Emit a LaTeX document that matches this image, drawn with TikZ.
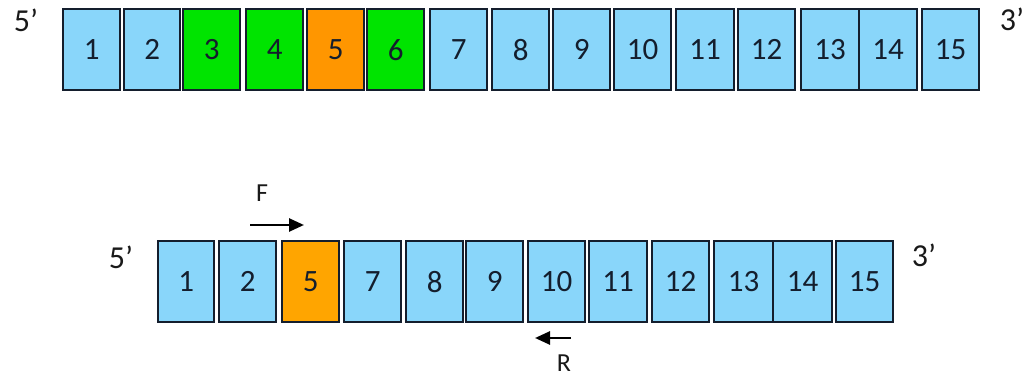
\documentclass[tikz,border=0pt]{standalone}
\usepackage{fontspec}
\setmainfont{Carlito}
\usepackage{xcolor}
\usetikzlibrary{arrows.meta}

\definecolor{exonblue}{RGB}{137,214,250}
\definecolor{exongreen}{RGB}{0,228,0}
\definecolor{exonorange}{RGB}{255,150,0}
\definecolor{exonamber}{RGB}{255,165,0}
\definecolor{exonline}{RGB}{20,30,45}

\tikzset{
  exon/.style={draw=exonline,line width=2.4pt,inner sep=0pt,anchor=north west,
    minimum height=81pt,font=\fontsize{31}{33}\selectfont,text=exonline},
  endlabel/.style={font=\fontsize{32}{34}\selectfont,text=black!90},
  primer/.style={font=\fontsize{26}{28}\selectfont,text=black!90},
  primerarrow/.style={line width=2.6pt,-{Triangle[length=15pt,width=13pt]}}
}

\begin{document}
\begin{tikzpicture}[x=1pt,y=-1pt]
  \useasboundingbox (0,0) rectangle (1031,377);

  % full transcript
  \foreach \lab/\l/\r/\c in {1/62/119/exonblue,2/123/179/exonblue,
      3/182/239/exongreen,4/245/302/exongreen,5/306/363/exonorange,
      6/366/423/exongreen,7/429/486/exonblue,8/491/548/exonblue,
      9/552/609/exonblue,10/613/670/exonblue,11/675/733/exonblue,
      12/737/794/exonblue,13/800/858/exonblue,14/858/916/exonblue,
      15/921/978/exonblue}
    \node (t\lab) [exon,fill=\c,minimum width=\r pt-\l pt] at (\l,8) {\lab};
  \node (t5p) [endlabel] at (26,20) {5’};
  \node (t3p) [endlabel] at (1012,19) {3’};

  % spliced variant
  \foreach \lab/\l/\r/\c in {1/157/213/exonblue,2/218/275/exonblue,
      5/281/338/exonamber,7/343/400/exonblue,8/405/462/exonblue,
      9/465/522/exonblue,10/527/584/exonblue,11/588/646/exonblue,
      12/651/708/exonblue,13/713/772/exonblue,14/772/831/exonblue,
      15/835/892/exonblue}
    \node (b\lab) [exon,fill=\c,minimum width=\r pt-\l pt] at (\l,240) {\lab};
  \node (b5p) [endlabel] at (121,257) {5’};
  \node (b3p) [endlabel] at (924,255) {3’};

  % primers
  \node (fwd) [primer] at (262,193) {F};
  \coordinate (fwds) at (250,225);
  \coordinate (fwde) at (304,225);
  \draw[primerarrow] (fwds) -- (fwde);
  \node (rev) [primer] at (564,363) {R};
  \coordinate (revs) at (571,338);
  \coordinate (reve) at (535,338);
  \draw[primerarrow] (revs) -- (reve);
\end{tikzpicture}
\end{document}
